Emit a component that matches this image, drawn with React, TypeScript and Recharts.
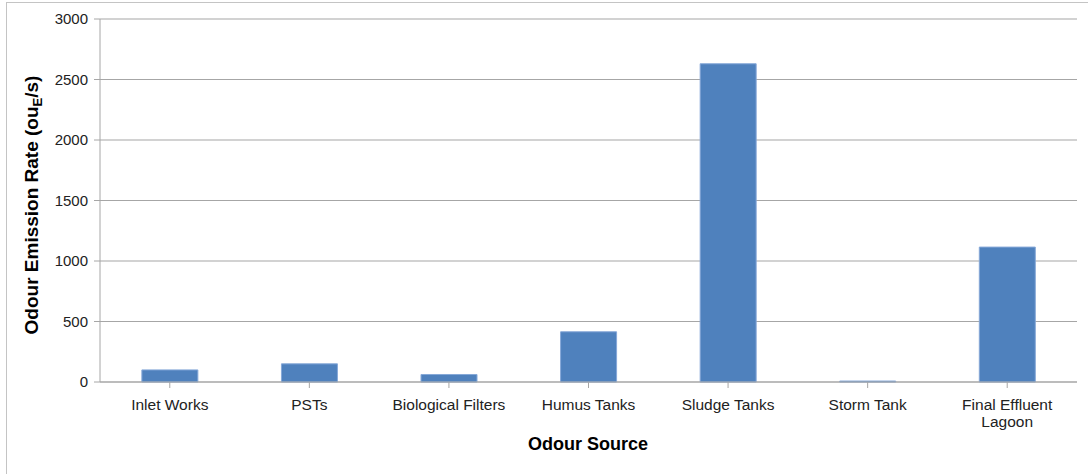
import React from 'react';
import { BarChart, Bar, XAxis, YAxis, CartesianGrid, Text } from 'recharts';

const sources = [
  'Inlet Works',
  'PSTs',
  'Biological Filters',
  'Humus Tanks',
  'Sludge Tanks',
  'Storm Tank',
  'Final Effluent Lagoon',
];
const emissionRates = [100, 150, 62, 415, 2630, 8, 1115];
const yTicks = [0, 500, 1000, 1500, 2000, 2500, 3000];

const data = sources.map((s, i) => ({ source: s, rate: emissionRates[i] }));

const font = 'Arial, "Liberation Sans", sans-serif';

const SourceTick = (props: any) => {
  const { x, y, payload } = props;
  return (
    <Text
      x={x}
      y={y + 9}
      width={125}
      textAnchor="middle"
      verticalAnchor="start"
      lineHeight={17}
      fontSize={15.5}
      fontFamily={font}
      fill="#222"
    >
      {payload.value}
    </Text>
  );
};

const YTitle = () => (
  <text
    x={0}
    y={0}
    transform="translate(38, 205) rotate(-90)"
    textAnchor="middle"
    fontSize={19}
    fontWeight="bold"
    fontFamily={font}
    fill="#000"
  >
    Odour Emission Rate (ou
    <tspan fontSize={13} dy={4}>E</tspan>
    <tspan dy={-4}>/s)</tspan>
  </text>
);

const XTitle = () => (
  <text x={588} y={450} textAnchor="middle" fontSize={18} fontWeight="bold" fontFamily={font} fill="#000">
    Odour Source
  </text>
);

export default function App() {
  return (
    <div style={{ position: 'absolute', left: 0, top: 0, width: 1088, height: 474, overflow: 'hidden', background: '#fff' }}>
      <div
        style={{
          position: 'absolute',
          left: 6,
          top: 2,
          width: 1200,
          height: 600,
          borderTop: '1px solid #c4c4c4',
          borderLeft: '1px solid #c4c4c4',
        }}
      />
      <div style={{ position: 'absolute', left: 0, top: 0 }}>
        <BarChart
          width={1088}
          height={474}
          data={data}
          margin={{ top: 19, right: 11, bottom: 0, left: 0 }}
          barCategoryGap="30%"
        >
          <CartesianGrid horizontal vertical={false} stroke="#a6a6a6" strokeWidth={1.2} />
          <XAxis
            dataKey="source"
            height={92}
            interval={0}
            stroke="#a6a6a6"
            tickLine={{ stroke: '#a6a6a6' }}
            tickSize={6}
            tick={<SourceTick />}
            label={{ content: () => <XTitle /> }}
          />
          <YAxis
            width={100}
            domain={[0, 3000]}
            ticks={yTicks}
            stroke="#a6a6a6"
            tickSize={6}
            tickMargin={6}
            tick={{ fontSize: 15, fontFamily: font, fill: '#222' }}
            label={{ content: () => <YTitle /> }}
          />
          <Bar dataKey="rate" fill="#4f81bd" stroke="#86a8d8" strokeWidth={1} isAnimationActive={false} />
        </BarChart>
      </div>
    </div>
  );
}
